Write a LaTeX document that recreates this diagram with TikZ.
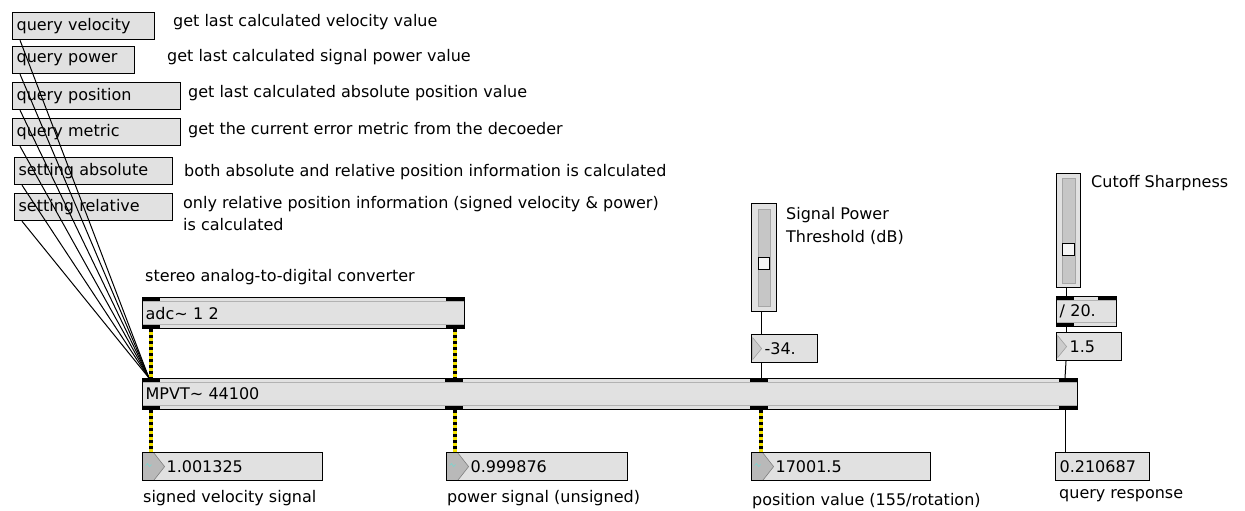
\documentclass[tikz,border=0pt]{standalone}
\usepackage{fontspec}
\setmainfont{DejaVu Sans}
\usetikzlibrary{calc}
\definecolor{boxgray}{HTML}{E1E1E1}
\definecolor{sigyellow}{HTML}{F2E200}
\newcommand{\maxfont}{\fontsize{16}{18}\selectfont}
\tikzset{
  msg/.style={draw, line width=1.2pt, fill=boxgray, anchor=north west, inner xsep=4pt, inner ysep=0pt, minimum height=27, align=left, font=\maxfont},
  obj/.style={msg, inner xsep=3pt, minimum height=31,
    path picture={
      \draw[gray!60, line width=1pt] ([yshift=-4pt]path picture bounding box.north west) -- ([yshift=-4pt]path picture bounding box.north east);
      \draw[gray!60, line width=1pt] ([yshift=4pt]path picture bounding box.south west) -- ([yshift=4pt]path picture bounding box.south east);}},
  numbox/.style={msg, minimum height=28},
  signum/.style={numbox, inner xsep=24pt,
    path picture={
      \fill[gray!55] (path picture bounding box.north west) -- ([xshift=11pt]path picture bounding box.north west) -- ([xshift=22pt]path picture bounding box.west) -- ([xshift=11pt]path picture bounding box.south west) -- (path picture bounding box.south west) -- cycle;
      \draw[gray, line width=0.6pt] ([xshift=11pt]path picture bounding box.north west) -- ([xshift=22pt]path picture bounding box.west) -- ([xshift=11pt]path picture bounding box.south west);
      \draw[cyan!60!green!50, line width=0.7pt] ([xshift=3pt,yshift=1pt]path picture bounding box.west) -- ++(2pt,2pt) -- ++(2pt,-3pt) -- ++(2pt,2pt);}},
  ctlnum/.style={numbox, inner xsep=13pt,
    path picture={
      \filldraw[fill=gray!40, draw=gray!75, line width=0.6pt] ([xshift=1pt,yshift=-3pt]path picture bounding box.north west) -- ([xshift=10pt]path picture bounding box.west) -- ([xshift=1pt,yshift=3pt]path picture bounding box.south west) -- cycle;}},
  comment/.style={anchor=west, inner sep=0pt, font=\maxfont, align=left},
  cord/.style={line width=1pt},
  sigcord/.style={line width=3.4pt, sigyellow, postaction={draw=black, line width=3.4pt, dash pattern=on 3pt off 3pt}},
  tab/.style={fill=black},
  slider/.style={draw, line width=1.2pt, fill=boxgray, anchor=north west, inner sep=0pt},
  track/.style={fill=gray!45, draw=gray!70, line width=0.8pt},
  knob/.style={fill=gray!8, draw=black, line width=0.8pt}
}

\begin{document}
\begin{tikzpicture}[x=1pt, y=-1pt]
\useasboundingbox (0,0) rectangle (1245,511);

% message boxes and their comments
\node[msg, text width=134] (qvel) at (12,12) {query velocity};
\node[msg, text width=114] (qpow) at (12,46) {query power};
\node[msg, text width=160] (qpos) at (12,82) {query position};
\node[msg, text width=160] (qmet) at (12,118) {query metric};
\node[msg, text width=150] (setabs) at (14,157) {setting absolute};
\node[msg, text width=150] (setrel) at (14,193) {setting relative};

\node[comment] (cvel) at (173,22) {get last calculated velocity value};
\node[comment] (cpow) at (167,57) {get last calculated signal power value};
\node[comment] (cpos) at (188,93) {get last calculated absolute position value};
\node[comment] (cmet) at (188,130) {get the current error metric from the decoeder};
\node[comment] (cabs) at (184,172) {both absolute and relative position information is calculated};
\node[comment, anchor=north west, font=\fontsize{16}{22}\selectfont] (crel) at (183,196) {only relative position information (signed velocity \& power)\\is calculated};

% objects
\node[comment] (adclbl) at (145,277) {stereo analog-to-digital converter};
\node[obj, text width=316] (adc) at (142,297) {adc\textasciitilde{} 1 2};
\node[obj, text width=929] (mpvt) at (142,378) {MPVT\textasciitilde{} 44100};

\foreach \dx in {0,304} {
  \fill[tab] ($(adc.north west)+(\dx,0)$) rectangle ++(18,4);
  \fill[tab] ($(adc.south west)+(\dx,-4)$) rectangle ++(18,4);
}
\foreach \dx in {0,303,608,917} {
  \fill[tab] ($(mpvt.north west)+(\dx,0)$) rectangle ++(18,4);
  \fill[tab] ($(mpvt.south west)+(\dx,-4)$) rectangle ++(18,4);
}

% threshold control
\node[slider, minimum width=25, minimum height=108] (thrslider) at (751,203) {};
\draw[track] ($(thrslider.north west)+(7,6)$) rectangle ($(thrslider.south east)+(-7,-6)$);
\draw[knob] ($(thrslider.north west)+(7,54)$) rectangle ++(11,12);
\node[comment, anchor=north west, font=\fontsize{16}{23}\selectfont] (thrlbl) at (786,207) {Signal Power\\Threshold (dB)};
\node[ctlnum, text width=40] (thrnum) at (751,334) {-34.};

% cutoff control
\node[slider, minimum width=24, minimum height=114] (cutslider) at (1056,173) {};
\draw[track] ($(cutslider.north west)+(6,5)$) rectangle ($(cutslider.south east)+(-6,-5)$);
\draw[knob] ($(cutslider.north west)+(6,70)$) rectangle ++(12,12);
\node[comment] (cutlbl) at (1091,183) {Cutoff Sharpness};
\node[obj, text width=54, minimum height=30] (divobj) at (1056,296) {/ 20.};
\foreach \dx in {0,42} \fill[tab] ($(divobj.north west)+(\dx,0)$) rectangle ++(18,4);
\fill[tab] ($(divobj.south west)+(0,-4)$) rectangle ++(18,4);
\node[ctlnum, text width=39] (cutnum) at (1056,332) {1.5};

% outputs
\node[signum, text width=132] (velnum) at (142,452) {1.001325};
\node[signum, text width=133] (pownum) at (446,452) {0.999876};
\node[signum, text width=131] (posnum) at (751,452) {17001.5};
\node[numbox, text width=86] (resp) at (1055,452) {0.210687};

\node[comment] (vellbl) at (143,498) {signed velocity signal};
\node[comment] (powlbl) at (447,498) {power signal (unsigned)};
\node[comment] (poslbl) at (752,501) {position value (155/rotation)};
\node[comment] (resplbl) at (1059,496) {query response};

% patch cords
\foreach \b in {qvel,qpow,qpos,qmet,setabs,setrel}
  \draw[cord] ($(\b.south west)+(8,0)$) -- ($(mpvt.north west)+(7,0)$);
\draw[sigcord] ($(adc.south west)+(9,0)$) -- ($(mpvt.north west)+(9,0)$);
\draw[sigcord] ($(adc.south west)+(313,0)$) -- ($(mpvt.north west)+(313,0)$);
\draw[sigcord] ($(mpvt.south west)+(9,0)$) -- ($(velnum.north west)+(9,0)$);
\draw[sigcord] ($(mpvt.south west)+(313,0)$) -- ($(pownum.north west)+(9,0)$);
\draw[sigcord] ($(mpvt.south west)+(619,0)$) -- ($(posnum.north west)+(10,0)$);
\draw[cord] ($(mpvt.south west)+(923,0)$) -- ($(resp.north west)+(10,0)$);
\draw[cord] ($(thrslider.south west)+(10,0)$) -- ($(thrnum.north west)+(10,0)$);
\draw[cord] ($(thrnum.south west)+(10,0)$) -- ($(mpvt.north west)+(619,0)$);
\draw[cord] ($(cutslider.south west)+(10,0)$) -- ($(divobj.north west)+(10,0)$);
\draw[cord] ($(divobj.south west)+(10,0)$) -- ($(cutnum.north west)+(10,0)$);
\draw[cord] ($(cutnum.south west)+(10,0)$) -- ($(mpvt.north west)+(923,0)$);
\end{tikzpicture}
\end{document}
